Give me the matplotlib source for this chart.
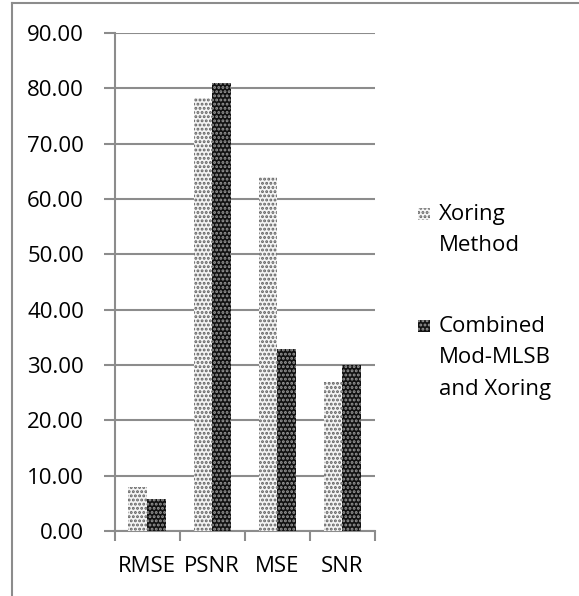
import matplotlib
matplotlib.use("Agg")
import matplotlib.pyplot as plt
import numpy as np
from matplotlib.lines import Line2D
from matplotlib.patches import Rectangle

categories = ["RMSE", "PSNR", "MSE", "SNR"]
xoring = [8.0, 78.2, 64.0, 27.0]
combined = [5.7, 81.0, 32.9, 30.0]
series_names = ["Xoring\nMethod", "Combined\nMod-MLSB\nand Xoring"]
yticks = [0, 10, 20, 30, 40, 50, 60, 70, 80, 90]

plt.rcParams["font.family"] = ["Open Sans", "DejaVu Sans"]
plt.rcParams["hatch.linewidth"] = 1.4

GRID = "#8c8c8c"
styles = [
    dict(facecolor="#f4f4f4", edgecolor="#606060", hatch="...."),
    dict(facecolor="#111111", edgecolor="#9a9a9a", hatch="...."),
]

fig = plt.figure(figsize=(5.79, 5.96), dpi=100)
ax = fig.add_axes([0.1978, 0.1091, 0.4499, 0.8356])

x = np.arange(len(categories))
w = 0.287
ax.bar(x - w / 2, xoring, w, linewidth=0, zorder=3, **styles[0])
ax.bar(x + w / 2, combined, w, linewidth=0, zorder=3, **styles[1])

ax.set_xlim(-0.5, len(categories) - 0.5)
ax.set_ylim(0, 90)
ax.set_yticks(yticks)
ax.set_yticklabels([f"{v:.2f}" for v in yticks])
ax.set_xticks(x)
ax.set_xticklabels(categories)
# category boundary ticks
ax.set_xticks(np.arange(-0.5, len(categories)), minor=True)
ax.tick_params(axis="x", which="major", length=0, pad=18, labelsize=16)
ax.tick_params(axis="x", which="minor", length=7, width=1.5, color=GRID)
ax.tick_params(axis="y", length=8, width=1.5, color=GRID, pad=14, labelsize=16)

ax.yaxis.grid(True, color=GRID, linewidth=1.5, zorder=0)
ax.set_axisbelow(True)
for s in ["top", "right"]:
    ax.spines[s].set_visible(False)
for s in ["left", "bottom"]:
    ax.spines[s].set_color(GRID)
    ax.spines[s].set_linewidth(1.5)

# legend drawn by hand so the swatch sits on the first line
W, H = 579, 596
leg_y = [214, 326]
for name, st, yy in zip(series_names, styles, leg_y):
    fig.add_artist(Rectangle((418 / W, 1 - (yy + 6) / H), 12 / W, 12 / H,
                             transform=fig.transFigure, linewidth=0, **st))
    fig.text(439 / W, 1 - (yy - 10) / H, name, fontsize=16, va="top",
             ha="left", linespacing=1.65)

# outer frame (only top and left visible)
fig.add_artist(Line2D([12 / W, 12 / W], [0, 1 - 3 / H], color=GRID,
                      linewidth=1.5, transform=fig.transFigure))
fig.add_artist(Line2D([12 / W, 1], [1 - 3 / H, 1 - 3 / H], color=GRID,
                      linewidth=1.5, transform=fig.transFigure))

fig.savefig("out.png", dpi=100)
